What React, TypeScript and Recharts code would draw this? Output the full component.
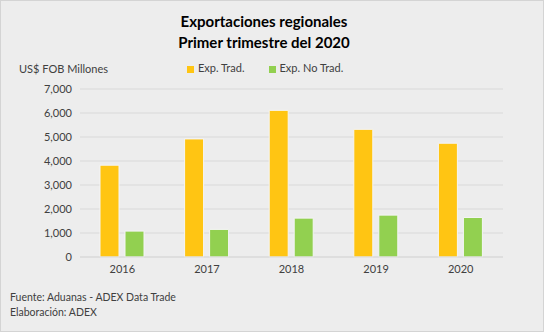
import { Bar, BarChart, CartesianGrid, Legend, XAxis, YAxis } from 'recharts';

const years = ['2016', '2017', '2018', '2019', '2020'];
const expTrad = [3825, 4920, 6110, 5320, 4740];
const expNoTrad = [1080, 1150, 1620, 1745, 1645];
const yTicks = [0, 1000, 2000, 3000, 4000, 5000, 6000, 7000];

const data = years.map((year, i) => ({
  year,
  trad: expTrad[i],
  noTrad: expNoTrad[i],
}));

const font = 'Lato, "Noto Sans", sans-serif';
const textColor = '#404040';

export default function App() {
  return (
    <div
      style={{
        position: 'absolute',
        left: 0,
        top: 0,
        width: 544,
        height: 332,
        boxSizing: 'border-box',
        background: '#EDEDED',
        border: '1px solid #D4D4D4',
        fontFamily: font,
        color: textColor,
      }}
    >
      <div
        style={{
          position: 'absolute',
          top: 10,
          left: 0,
          width: 526,
          textAlign: 'center',
          fontWeight: 700,
          fontSize: 15,
          lineHeight: '21px',
          color: '#000',
        }}
      >
        Exportaciones regionales
        <br />
        Primer trimestre del 2020
      </div>
      <div style={{ position: 'absolute', top: 61, left: 18, fontSize: 11 }}>
        US$ FOB Millones
      </div>
      <BarChart
        width={542}
        height={330}
        data={data}
        margin={{ top: 88, right: 40, bottom: 49, left: 9 }}
        barSize={19}
        barGap={6}
        style={{ position: 'absolute', top: 0, left: 0 }}
      >
        <CartesianGrid vertical={false} stroke="#D9D9D9" />
        <XAxis
          dataKey="year"
          axisLine={{ stroke: '#D9D9D9' }}
          tickLine={false}
          tick={{ fontSize: 11, fill: textColor, fontFamily: font }}
          height={25}
        />
        <YAxis
          domain={[0, 7000]}
          ticks={yTicks}
          axisLine={false}
          tickLine={false}
          width={70}
          tick={{ fontSize: 11, fill: textColor, fontFamily: font }}
          tickFormatter={(v: number) => v.toLocaleString('en-US')}
        />
        <Legend
          verticalAlign="middle"
          layout="horizontal"
          iconType="square"
          iconSize={7}
          itemSorter={null}
          wrapperStyle={{
            top: 60,
            left: 186,
            width: 'auto',
            fontSize: 11,
            fontFamily: font,
          }}
          formatter={(value: string, _entry: unknown, index: number) => (
            <span style={{ color: textColor, marginRight: index === 0 ? 14 : 0 }}>{value}</span>
          )}
        />
        <Bar
          dataKey="trad"
          name="Exp. Trad."
          fill="#FFC513"
          stroke="#F5F5F5"
          strokeWidth={1}
          isAnimationActive={false}
        />
        <Bar
          dataKey="noTrad"
          name="Exp. No Trad."
          fill="#92D050"
          stroke="#F5F5F5"
          strokeWidth={1}
          isAnimationActive={false}
        />
      </BarChart>
      <div
        style={{
          position: 'absolute',
          top: 289,
          left: 9,
          fontSize: 10.5,
          lineHeight: '15px',
        }}
      >
        Fuente: Aduanas - ADEX Data Trade
        <br />
        Elaboración: ADEX
      </div>
    </div>
  );
}
